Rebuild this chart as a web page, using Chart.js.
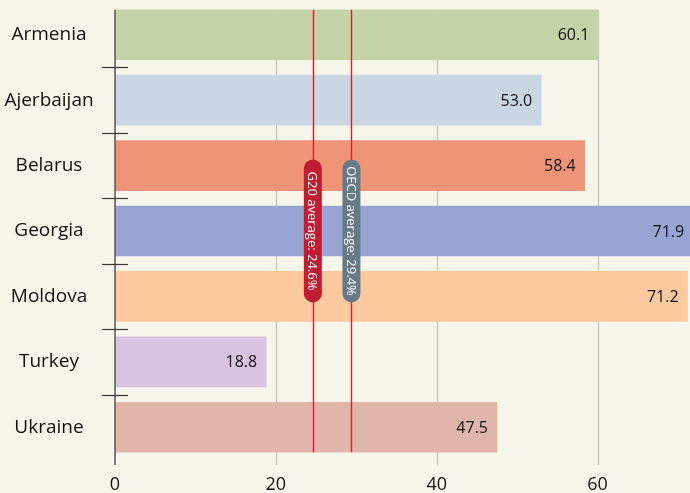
<!DOCTYPE html>
<html>
<head>
<meta charset="utf-8">
<script src="https://cdn.jsdelivr.net/npm/chart.js@4"></script>
<style>
  html, body { margin: 0; padding: 0; background: #f8f5ea; }
  #wrap { width: 690px; height: 493px; position: relative; }
</style>
</head>
<body>
<div id="wrap"><canvas id="chart"></canvas></div>
<script>
// Share per country (%)
const countries = ['Armenia', 'Ajerbaijan', 'Belarus', 'Georgia', 'Moldova', 'Turkey', 'Ukraine'];
const shares = [60.1, 53.0, 58.4, 71.9, 71.2, 18.8, 47.5];
const barColors = ['#c5d4a8', '#c9d6e3', '#f09477', '#98a5d3', '#fdc99f', '#d6c4e0', '#e0b5aa'];
const xTickValues = [0, 20, 40, 60];

// Reference averages drawn as vertical markers
const benchmarkNames = ['G20 average: 24.6%', 'OECD average: 29.4%'];
const benchmarkValues = [24.6, 29.4];
const benchmarkColors = ['#c21c32', '#677b87'];

const FONT = "'Open Sans', 'Noto Sans', sans-serif";
const TEXT = '#111111';
const AXIS_WIDTH = 115;
const LABEL_CENTER = 49;

// centre the country names in the left gutter
const measure = document.createElement('canvas').getContext('2d');
measure.font = '19px ' + FONT;
const widest = Math.max(...countries.map(c => measure.measureText(c).width));
const yLabelPadding = AXIS_WIDTH - LABEL_CENTER - widest / 2;

const decor = {
  id: 'decor',
  beforeDatasetsDraw(chart) {
    const { ctx, chartArea, scales: { x } } = chart;
    const bars = chart.getDatasetMeta(0).data;
    const top = bars[0].y - bars[0].height / 2;
    const bottom = chartArea.bottom + 5;
    ctx.save();
    ctx.strokeStyle = '#c8c7c2';
    ctx.lineWidth = 1.3;
    xTickValues.slice(1).forEach(v => {
      const px = Math.round(x.getPixelForValue(v)) + 0.5;
      ctx.beginPath();
      ctx.moveTo(px, top);
      ctx.lineTo(px, bottom);
      ctx.stroke();
    });
    ctx.restore();
  },
  afterDatasetsDraw(chart) {
    const { ctx, chartArea, scales: { x } } = chart;
    const bars = chart.getDatasetMeta(0).data;
    const top = bars[0].y - bars[0].height / 2;
    const last = bars[bars.length - 1];
    const barsBottom = last.y + last.height / 2;
    const axisBottom = chartArea.bottom + 5;
    const x0 = x.getPixelForValue(0);

    ctx.save();
    // value labels inside the bar ends
    ctx.font = '16px ' + FONT;
    ctx.fillStyle = TEXT;
    ctx.textAlign = 'right';
    ctx.textBaseline = 'middle';
    shares.forEach((v, i) => {
      ctx.fillText(v.toFixed(1), x.getPixelForValue(v) - 9, bars[i].y + 1);
    });

    // benchmark lines
    ctx.strokeStyle = '#dc1f30';
    ctx.lineWidth = 1.4;
    benchmarkValues.forEach(v => {
      const px = Math.round(x.getPixelForValue(v)) + 0.5;
      ctx.beginPath();
      ctx.moveTo(px, top);
      ctx.lineTo(px, barsBottom);
      ctx.stroke();
    });

    // vertical axis line
    ctx.strokeStyle = '#5f5f5c';
    ctx.lineWidth = 1.6;
    ctx.beginPath();
    ctx.moveTo(x0, top);
    ctx.lineTo(x0, axisBottom);
    ctx.stroke();

    // tick marks crossing the axis between categories
    ctx.strokeStyle = '#3a3a38';
    ctx.lineWidth = 1.2;
    for (let i = 1; i < bars.length; i++) {
      const py = Math.round((bars[i - 1].y + bars[i].y) / 2) + 0.5;
      ctx.beginPath();
      ctx.moveTo(x0 - 13, py);
      ctx.lineTo(x0 + 13, py);
      ctx.stroke();
    }

    // rounded labels on the benchmark lines
    const cy = (chartArea.top + chartArea.bottom) / 2;
    const w = 18, h = 143;
    benchmarkValues.forEach((v, i) => {
      const cx = x.getPixelForValue(v);
      ctx.fillStyle = benchmarkColors[i];
      ctx.beginPath();
      ctx.roundRect(cx - w / 2, cy - h / 2, w, h, w / 2);
      ctx.fill();
      ctx.save();
      ctx.translate(cx, cy);
      ctx.rotate(Math.PI / 2);
      ctx.fillStyle = '#ffffff';
      ctx.font = '13px ' + FONT;
      ctx.textAlign = 'center';
      ctx.textBaseline = 'middle';
      ctx.fillText(benchmarkNames[i], 0, 1);
      ctx.restore();
    });
    ctx.restore();
  }
};

new Chart(document.getElementById('chart'), {
  type: 'bar',
  data: {
    labels: countries,
    datasets: [{
      data: shares,
      backgroundColor: barColors,
      borderWidth: 0,
      barThickness: 50
    }]
  },
  options: {
    indexAxis: 'y',
    responsive: true,
    maintainAspectRatio: false,
    animation: false,
    layout: { padding: { top: 2, right: 0, bottom: 0, left: 0 } },
    plugins: {
      legend: { display: false },
      tooltip: { enabled: false }
    },
    scales: {
      x: {
        type: 'linear',
        min: 0,
        max: 71.5,
        grid: { display: false, drawTicks: false },
        border: { display: false },
        afterBuildTicks(scale) { scale.ticks = xTickValues.map(v => ({ value: v })); },
        afterFit(scale) {
          scale.height = 33;
          scale.paddingLeft = 0;
          scale.paddingRight = 0;
        },
        ticks: {
          padding: 14,
          color: TEXT,
          font: { family: FONT, size: 18 }
        }
      },
      y: {
        grid: { display: false, drawTicks: false },
        border: { display: false },
        afterFit(scale) {
          scale.width = AXIS_WIDTH;
          scale.paddingTop = 0;
          scale.paddingBottom = 0;
        },
        ticks: {
          crossAlign: 'center',
          padding: yLabelPadding,
          color: TEXT,
          font: { family: FONT, size: 19 }
        }
      }
    }
  },
  plugins: [decor]
});
</script>
</body>
</html>
